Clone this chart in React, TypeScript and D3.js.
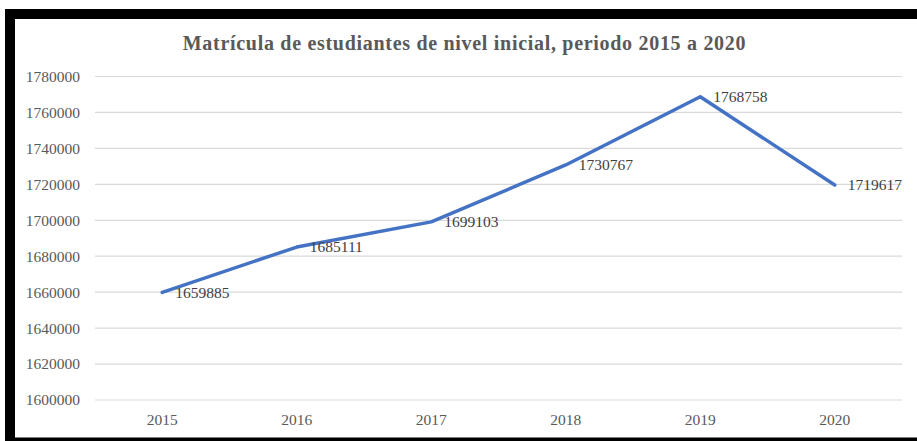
import React from "react";
import * as d3 from "d3";

const years = ["2015", "2016", "2017", "2018", "2019", "2020"];
const matricula = [1659885, 1685111, 1699103, 1730767, 1768758, 1719617];
const yTicks = [1600000, 1620000, 1640000, 1660000, 1680000, 1700000, 1720000, 1740000, 1760000, 1780000];
const title = "Matrícula de estudiantes de nivel inicial, periodo 2015 a 2020";

const W = 917;
const H = 441;
const FONT = "'Liberation Serif', 'DejaVu Serif', serif";

export default function App() {
  const left = 95;
  const right = 902;
  const top = 76.5;
  const bottom = 400;

  const x = d3.scaleBand<string>().domain(years).range([left, right]);
  const y = d3.scaleLinear().domain([1600000, 1780000]).range([bottom, top]);

  const cx = (d: string) => (x(d) as number) + x.bandwidth() / 2;
  const line = d3
    .line<number>()
    .x((_, i) => cx(years[i]))
    .y((v) => y(v));

  return (
    <svg
      width={W}
      height={H}
      style={{ position: "absolute", left: 0, top: 0, background: "#fff" }}
    >
      <rect x={0} y={0} width={W} height={H} fill="#fff" />
      {/* frame */}
      <rect x={5} y={9} width={W - 5} height={10} fill="#000" />
      <rect x={5} y={9} width={10} height={H - 9} fill="#000" />
      <rect x={5} y={437.5} width={W - 5} height={3.5} fill="#000" />

      <text
        x={464.5}
        y={50}
        textAnchor="middle"
        fontFamily={FONT}
        fontWeight="bold"
        fontSize={20}
        letterSpacing={0.7}
        fill="#595959"
      >
        {title}
      </text>

      {yTicks.map((t) => (
        <g key={t}>
          <line x1={left} x2={right} y1={y(t)} y2={y(t)} stroke="#d9d9d9" strokeWidth={1.2} />
          <text
            x={80}
            y={y(t)}
            dy="0.35em"
            textAnchor="end"
            fontFamily={FONT}
            fontSize={15.5}
            fill="#595959"
          >
            {t}
          </text>
        </g>
      ))}

      {years.map((yr) => (
        <text
          key={yr}
          x={cx(yr)}
          y={420}
          dy="0.35em"
          textAnchor="middle"
          fontFamily={FONT}
          fontSize={15.5}
          fill="#595959"
        >
          {yr}
        </text>
      ))}

      <path
        d={line(matricula) as string}
        fill="none"
        stroke="#4472C4"
        strokeWidth={3.5}
        strokeLinejoin="round"
        strokeLinecap="round"
      />

      {matricula.map((v, i) => (
        <text
          key={i}
          x={cx(years[i]) + 13}
          y={y(v)}
          dy="0.35em"
          fontFamily={FONT}
          fontSize={15.5}
          fill="#404040"
        >
          {v}
        </text>
      ))}
    </svg>
  );
}
